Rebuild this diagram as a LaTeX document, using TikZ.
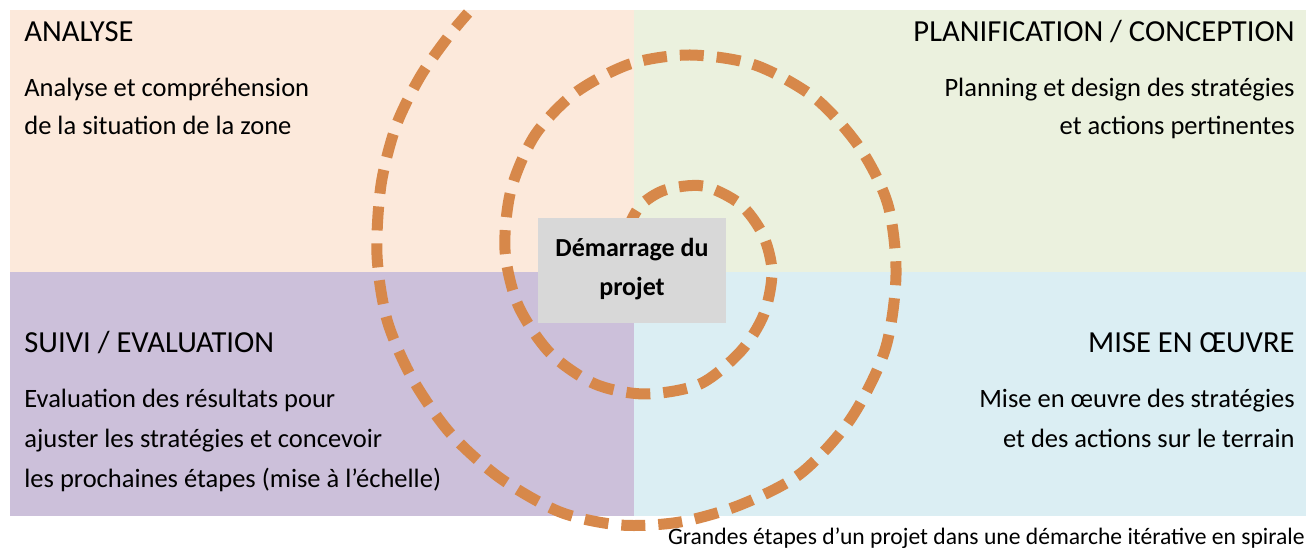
\documentclass[tikz,border=0pt]{standalone}
\usepackage{fontspec}
\setmainfont{Carlito}
\definecolor{analysecol}{RGB}{252,233,219}
\definecolor{plancol}{RGB}{235,241,222}
\definecolor{suivicol}{RGB}{204,192,218}
\definecolor{misecol}{RGB}{219,238,243}
\definecolor{startcol}{RGB}{216,216,216}
\definecolor{spiralcol}{RGB}{215,136,74}

\begin{document}
\begin{tikzpicture}[x=0.5pt,y=-0.5pt,
	title/.style={font=\fontsize{15.3}{18}\selectfont, inner sep=0pt},
	body/.style={font=\fontsize{13.25}{19}\selectfont, inner sep=0pt},
	bodywide/.style={font=\fontsize{13.25}{20}\selectfont, inner sep=0pt},
	spiral/.style={spiralcol, line width=5.5pt, dash pattern=on 12pt off 6.5pt}]

	\useasboundingbox (0,0) rectangle (1308,550);

	% Draw the four quadrants
	\fill[analysecol] (10,10) rectangle (634,272);
	\fill[plancol] (634,10) rectangle (1306,272);
	\fill[suivicol] (10,272) rectangle (634,516);
	\fill[misecol] (634,272) rectangle (1306,516);

	% Draw the spiral from the centre outwards
	\draw[spiral] plot[smooth, tension=0.5] coordinates {(626,232) (640,206) (665,190) (703,186) (740,204) (763,235) (772,272) (764,314) (741,351) (700,384) (645,394) (595,384) (550,353) (518,305) (505,250) (511,190) (535,135) (575,93) (630,64) (690,55) (755,65) (815,98) (860,148) (888,205) (896,275) (885,350) (850,420) (800,474) (740,505) (680,522) (620,525) (560,512) (500,478) (450,433) (412,378) (387,320) (377,255) (381,185) (396,126) (420,77) (448,37) (468,13)};

	% Start box in the middle
	\node[fill=startcol, minimum width=94pt, minimum height=52.5pt, inner sep=0pt] (start) at (632,270.5) {};
	\node[font=\fontsize{13}{19.5}\selectfont\bfseries, align=center, inner sep=0pt] (startlabel) at (632,269) {Démarrage du\\projet};

	% Analyse (top left), base is the last line
	\node[title, anchor=base west] (analyse) at (24,42) {ANALYSE};
	\node[body, anchor=base west, align=left] (analysetext) at (24,135) {Analyse et compréhension\\de la situation de la zone};

	% Planification / conception (top right)
	\node[title, anchor=base east] (plan) at (1295,42) {PLANIFICATION / CONCEPTION};
	\node[body, anchor=base east, align=right] (plantext) at (1295,135) {Planning et design des stratégies\\et actions pertinentes};

	% Suivi / evaluation (bottom left)
	\node[title, anchor=base west] (suivi) at (24,353) {SUIVI / EVALUATION};
	\node[bodywide, anchor=base west, align=left] (suivitext) at (24,488) {Evaluation des résultats pour\\ajuster les stratégies et concevoir\\les prochaines étapes (mise à l’échelle)};

	% Mise en oeuvre (bottom right)
	\node[title, anchor=base east] (mise) at (1295,353) {MISE EN ŒUVRE};
	\node[bodywide, anchor=base east, align=right] (misetext) at (1295,448) {Mise en œuvre des stratégies\\et des actions sur le terrain};

	% Caption
	\node[font=\fontsize{11.8}{14}\selectfont, anchor=base east, inner sep=0pt] (caption) at (1305,545) {Grandes étapes d’un projet dans une démarche itérative en spirale};

\end{tikzpicture}
\end{document}
